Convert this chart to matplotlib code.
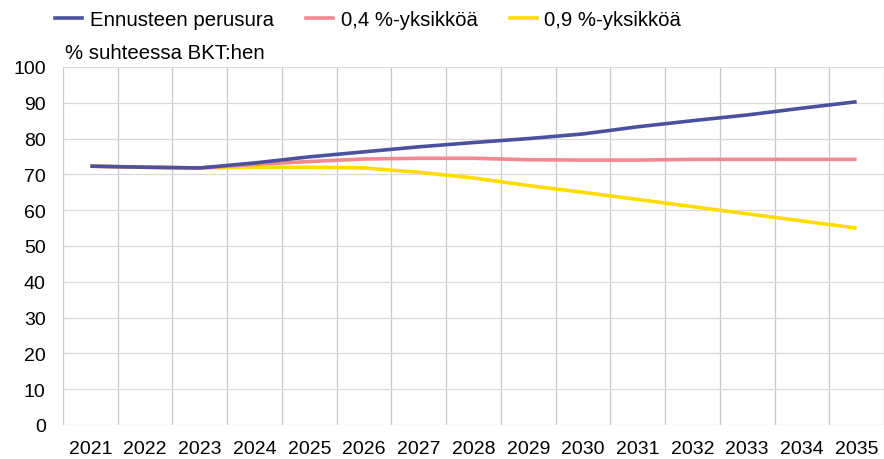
import numpy as np
import matplotlib.pyplot as plt
from matplotlib.lines import Line2D

plt.rcParams['font.family'] = ['Liberation Sans', 'DejaVu Sans']

# Data
years = [str(y) for y in range(2021, 2036)]
perusura = [72.3, 72.0, 71.8, 73.2, 74.9, 76.3, 77.7, 78.9, 80.0, 81.3, 83.3, 85.0, 86.6, 88.5, 90.3]
yks_04 = [72.3, 72.0, 71.8, 72.8, 73.6, 74.3, 74.5, 74.5, 74.1, 74.0, 74.0, 74.2, 74.2, 74.2, 74.2]
yks_09 = [72.3, 72.0, 71.8, 72.0, 72.0, 71.8, 70.6, 69.0, 66.9, 65.0, 63.0, 61.0, 59.0, 57.0, 55.0]

c_blue = '#4a52a0'
c_pink = '#f4888f'
c_yellow = '#ffdc00'

fig = plt.figure(figsize=(8.84, 4.60), dpi=100)
ax = fig.add_axes([63/884, 1 - 426/460, 1 - 63/884, (426 - 68)/460])

x = np.arange(len(years))
ax.plot(x, yks_09, color=c_yellow, lw=2.6, solid_capstyle='butt', zorder=3)
ax.plot(x, yks_04, color=c_pink, lw=2.6, solid_capstyle='butt', zorder=4)
ax.plot(x, perusura, color=c_blue, lw=2.6, solid_capstyle='butt', zorder=5)

ax.set_xlim(-0.5, len(years) - 0.5)
ax.set_ylim(0, 100)
ax.set_yticks(np.arange(0, 101, 10))
ax.set_xticks(x)
ax.set_xticklabels(years)
ax.set_xticks(np.arange(-0.5, len(years), 1), minor=True)

ax.grid(axis='y', which='major', color='#d9d9d9', lw=0.9)
ax.grid(axis='x', which='minor', color='#c8c8c8', lw=0.9)
ax.set_axisbelow(True)
for s in ax.spines.values():
    s.set_visible(False)
ax.tick_params(which='both', length=0)
ax.tick_params(axis='y', labelsize=14, pad=12.5)
ax.tick_params(axis='x', labelsize=14, pad=11)

ax.text(2/821, 1 + 5/358, '% suhteessa BKT:hen', transform=ax.transAxes,
        fontsize=14.7, ha='left', va='bottom')

handles = [Line2D([], [], color=c_blue, lw=2.6),
           Line2D([], [], color=c_pink, lw=2.6),
           Line2D([], [], color=c_yellow, lw=2.6)]
fig.legend(handles, ['Ennusteen perusura', '0,4 %-yksikköä', '0,9 %-yksikköä'],
           loc='center left', bbox_to_anchor=(41/884, 1 - 21/460), ncol=3,
           frameon=False, fontsize=14.7, handlelength=1.33, handletextpad=0.35,
           columnspacing=1.6, borderpad=0.2)

fig.savefig('out.png', dpi=100)
